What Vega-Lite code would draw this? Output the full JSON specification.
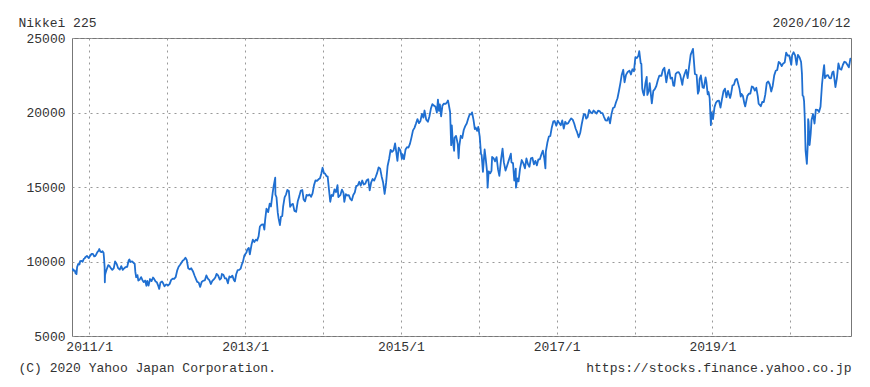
{
  "$schema": "https://vega.github.io/schema/vega-lite/v6.json",
  "width": 779,
  "height": 298,
  "autosize": {"type": "none"},
  "padding": {"left": 72, "top": 38, "right": 19, "bottom": 51},
  "background": "white",
  "config": {
    "view": {"stroke": "#777", "strokeWidth": 1},
    "font": "Liberation Mono"
  },
  "data": {"values": [
    {"d":"2010-10-12","v":9389},{"d":"2010-10-15","v":9500},{"d":"2010-10-20","v":9381},{"d":"2010-10-25","v":9401},{"d":"2010-10-29","v":9202},{"d":"2010-11-02","v":9154},{"d":"2010-11-05","v":9625},{"d":"2010-11-10","v":9830},{"d":"2010-11-16","v":9797},{"d":"2010-11-19","v":10022},{"d":"2010-11-26","v":10039},{"d":"2010-12-01","v":9988},{"d":"2010-12-06","v":10167},{"d":"2010-12-10","v":10211},{"d":"2010-12-15","v":10309},{"d":"2010-12-21","v":10370},{"d":"2010-12-27","v":10279},{"d":"2010-12-30","v":10229},
    {"d":"2011-01-05","v":10380},{"d":"2011-01-12","v":10512},{"d":"2011-01-18","v":10518},{"d":"2011-01-24","v":10345},{"d":"2011-01-28","v":10360},{"d":"2011-02-02","v":10457},{"d":"2011-02-08","v":10635},{"d":"2011-02-14","v":10725},{"d":"2011-02-17","v":10836},{"d":"2011-02-22","v":10665},{"d":"2011-02-28","v":10624},{"d":"2011-03-04","v":10694},{"d":"2011-03-09","v":10589},{"d":"2011-03-11","v":10254},{"d":"2011-03-14","v":9620},{"d":"2011-03-15","v":8605},{"d":"2011-03-16","v":9093},{"d":"2011-03-18","v":9206},{"d":"2011-03-23","v":9449},{"d":"2011-03-31","v":9755},{"d":"2011-04-05","v":9718},{"d":"2011-04-12","v":9555},{"d":"2011-04-19","v":9441},{"d":"2011-04-26","v":9558},{"d":"2011-05-02","v":10004},{"d":"2011-05-10","v":9818},{"d":"2011-05-16","v":9558},{"d":"2011-05-24","v":9460},{"d":"2011-05-31","v":9693},{"d":"2011-06-07","v":9442},{"d":"2011-06-14","v":9547},{"d":"2011-06-21","v":9629},{"d":"2011-06-28","v":9648},{"d":"2011-07-05","v":10082},{"d":"2011-07-08","v":10137},{"d":"2011-07-13","v":9964},{"d":"2011-07-21","v":10010},{"d":"2011-07-28","v":9902},{"d":"2011-08-02","v":9844},{"d":"2011-08-05","v":9300},{"d":"2011-08-09","v":8944},{"d":"2011-08-15","v":9086},{"d":"2011-08-19","v":8719},{"d":"2011-08-26","v":8797},{"d":"2011-09-01","v":8950},{"d":"2011-09-07","v":8763},{"d":"2011-09-13","v":8616},{"d":"2011-09-20","v":8721},{"d":"2011-09-26","v":8374},{"d":"2011-09-30","v":8700},{"d":"2011-10-06","v":8382},{"d":"2011-10-13","v":8823},{"d":"2011-10-20","v":8682},{"d":"2011-10-27","v":8926},{"d":"2011-11-01","v":8835},{"d":"2011-11-08","v":8655},{"d":"2011-11-14","v":8603},{"d":"2011-11-21","v":8348},{"d":"2011-11-25","v":8160},{"d":"2011-12-01","v":8597},{"d":"2011-12-08","v":8664},{"d":"2011-12-14","v":8519},{"d":"2011-12-20","v":8336},{"d":"2011-12-26","v":8440},{"d":"2011-12-30","v":8455},
    {"d":"2012-01-06","v":8390},{"d":"2012-01-13","v":8500},{"d":"2012-01-20","v":8766},{"d":"2012-01-27","v":8841},{"d":"2012-02-03","v":8831},{"d":"2012-02-10","v":8947},{"d":"2012-02-17","v":9384},{"d":"2012-02-24","v":9647},{"d":"2012-03-02","v":9777},{"d":"2012-03-09","v":9930},{"d":"2012-03-14","v":10050},{"d":"2012-03-21","v":10127},{"d":"2012-03-27","v":10255},{"d":"2012-04-02","v":10109},{"d":"2012-04-09","v":9546},{"d":"2012-04-16","v":9470},{"d":"2012-04-23","v":9542},{"d":"2012-05-01","v":9350},{"d":"2012-05-09","v":9045},{"d":"2012-05-16","v":8800},{"d":"2012-05-21","v":8633},{"d":"2012-05-28","v":8593},{"d":"2012-06-04","v":8296},{"d":"2012-06-11","v":8624},{"d":"2012-06-19","v":8720},{"d":"2012-06-26","v":8734},{"d":"2012-07-03","v":9066},{"d":"2012-07-10","v":8857},{"d":"2012-07-17","v":8755},{"d":"2012-07-24","v":8488},{"d":"2012-07-31","v":8695},{"d":"2012-08-07","v":8803},{"d":"2012-08-14","v":8929},{"d":"2012-08-20","v":9171},{"d":"2012-08-27","v":9070},{"d":"2012-09-04","v":8783},{"d":"2012-09-10","v":8869},{"d":"2012-09-14","v":9159},{"d":"2012-09-21","v":9110},{"d":"2012-09-28","v":8870},{"d":"2012-10-05","v":8863},{"d":"2012-10-12","v":8534},{"d":"2012-10-19","v":9002},{"d":"2012-10-26","v":8933},{"d":"2012-11-02","v":9051},{"d":"2012-11-09","v":8757},{"d":"2012-11-14","v":8665},{"d":"2012-11-20","v":9142},{"d":"2012-11-27","v":9423},{"d":"2012-12-04","v":9432},{"d":"2012-12-11","v":9525},{"d":"2012-12-17","v":9829},{"d":"2012-12-21","v":9940},{"d":"2012-12-28","v":10395},
    {"d":"2013-01-07","v":10599},{"d":"2013-01-11","v":10801},{"d":"2013-01-18","v":10913},{"d":"2013-01-23","v":10487},{"d":"2013-01-31","v":11138},{"d":"2013-02-06","v":11463},{"d":"2013-02-13","v":11307},{"d":"2013-02-20","v":11468},{"d":"2013-02-26","v":11399},{"d":"2013-03-05","v":11683},{"d":"2013-03-11","v":12349},{"d":"2013-03-19","v":12468},{"d":"2013-03-27","v":12493},{"d":"2013-04-01","v":12135},{"d":"2013-04-05","v":12833},{"d":"2013-04-11","v":13549},{"d":"2013-04-19","v":13317},{"d":"2013-04-26","v":13884},{"d":"2013-05-02","v":13694},{"d":"2013-05-10","v":14608},{"d":"2013-05-15","v":15096},{"d":"2013-05-22","v":15627},{"d":"2013-05-23","v":14483},{"d":"2013-05-28","v":14311},{"d":"2013-06-03","v":13261},{"d":"2013-06-07","v":12877},{"d":"2013-06-13","v":12445},{"d":"2013-06-18","v":13007},{"d":"2013-06-24","v":13062},{"d":"2013-06-28","v":13677},{"d":"2013-07-05","v":14309},{"d":"2013-07-12","v":14506},{"d":"2013-07-18","v":14808},{"d":"2013-07-25","v":14731},{"d":"2013-07-31","v":13668},{"d":"2013-08-07","v":13825},{"d":"2013-08-13","v":13868},{"d":"2013-08-20","v":13396},{"d":"2013-08-28","v":13338},{"d":"2013-09-05","v":14065},{"d":"2013-09-12","v":14388},{"d":"2013-09-19","v":14766},{"d":"2013-09-26","v":14799},{"d":"2013-10-02","v":14171},{"d":"2013-10-09","v":14037},{"d":"2013-10-16","v":14467},{"d":"2013-10-23","v":14426},{"d":"2013-10-30","v":14502},{"d":"2013-11-06","v":14337},{"d":"2013-11-13","v":14567},{"d":"2013-11-20","v":15126},{"d":"2013-11-27","v":15449},{"d":"2013-12-04","v":15407},{"d":"2013-12-11","v":15515},{"d":"2013-12-18","v":15587},{"d":"2013-12-24","v":15889},{"d":"2013-12-30","v":16291},
    {"d":"2014-01-06","v":15909},{"d":"2014-01-10","v":15912},{"d":"2014-01-17","v":15734},{"d":"2014-01-23","v":15695},{"d":"2014-01-28","v":14980},{"d":"2014-02-04","v":14008},{"d":"2014-02-10","v":14462},{"d":"2014-02-17","v":14393},{"d":"2014-02-24","v":14837},{"d":"2014-03-03","v":14652},{"d":"2014-03-10","v":15120},{"d":"2014-03-14","v":14327},{"d":"2014-03-24","v":14475},{"d":"2014-03-31","v":14828},{"d":"2014-04-07","v":14606},{"d":"2014-04-11","v":14000},{"d":"2014-04-18","v":14516},{"d":"2014-04-25","v":14429},{"d":"2014-05-02","v":14458},{"d":"2014-05-09","v":14199},{"d":"2014-05-16","v":14097},{"d":"2014-05-23","v":14462},{"d":"2014-05-30","v":14632},{"d":"2014-06-06","v":15077},{"d":"2014-06-13","v":15098},{"d":"2014-06-20","v":15349},{"d":"2014-06-27","v":15095},{"d":"2014-07-04","v":15437},{"d":"2014-07-11","v":15165},{"d":"2014-07-18","v":15215},{"d":"2014-07-25","v":15457},{"d":"2014-08-01","v":15523},{"d":"2014-08-08","v":14778},{"d":"2014-08-15","v":15318},{"d":"2014-08-22","v":15539},{"d":"2014-08-29","v":15425},{"d":"2014-09-05","v":15669},{"d":"2014-09-12","v":15948},{"d":"2014-09-19","v":16321},{"d":"2014-09-26","v":16229},{"d":"2014-10-03","v":15708},{"d":"2014-10-10","v":15300},{"d":"2014-10-17","v":14532},{"d":"2014-10-24","v":15291},{"d":"2014-10-31","v":16413},{"d":"2014-11-07","v":16880},{"d":"2014-11-14","v":17490},{"d":"2014-11-21","v":17357},{"d":"2014-11-28","v":17459},{"d":"2014-12-05","v":17920},{"d":"2014-12-10","v":17412},{"d":"2014-12-16","v":16755},{"d":"2014-12-22","v":17635},{"d":"2014-12-30","v":17451},
    {"d":"2015-01-06","v":16883},{"d":"2015-01-09","v":17197},{"d":"2015-01-16","v":16864},{"d":"2015-01-23","v":17511},{"d":"2015-01-30","v":17674},{"d":"2015-02-06","v":17648},{"d":"2015-02-13","v":17913},{"d":"2015-02-20","v":18332},{"d":"2015-02-27","v":18797},{"d":"2015-03-06","v":18971},{"d":"2015-03-13","v":19254},{"d":"2015-03-20","v":19560},{"d":"2015-03-27","v":19286},{"d":"2015-04-03","v":19435},{"d":"2015-04-10","v":19907},{"d":"2015-04-17","v":19653},{"d":"2015-04-22","v":20133},{"d":"2015-04-30","v":19520},{"d":"2015-05-08","v":19379},{"d":"2015-05-15","v":19733},{"d":"2015-05-22","v":20264},{"d":"2015-05-29","v":20563},{"d":"2015-06-05","v":20461},{"d":"2015-06-12","v":20407},{"d":"2015-06-19","v":19990},{"d":"2015-06-24","v":20868},{"d":"2015-06-29","v":20109},{"d":"2015-07-03","v":20539},{"d":"2015-07-09","v":19737},{"d":"2015-07-15","v":20463},{"d":"2015-07-22","v":20593},{"d":"2015-07-31","v":20585},{"d":"2015-08-07","v":20724},{"d":"2015-08-10","v":20808},{"d":"2015-08-14","v":20519},{"d":"2015-08-20","v":20033},{"d":"2015-08-25","v":17806},{"d":"2015-08-28","v":19136},{"d":"2015-09-01","v":18166},{"d":"2015-09-08","v":17428},{"d":"2015-09-10","v":18299},{"d":"2015-09-17","v":18432},{"d":"2015-09-25","v":17880},{"d":"2015-09-29","v":16930},{"d":"2015-10-02","v":17725},{"d":"2015-10-09","v":18438},{"d":"2015-10-16","v":18291},{"d":"2015-10-23","v":18825},{"d":"2015-10-30","v":19083},{"d":"2015-11-06","v":19265},{"d":"2015-11-13","v":19597},{"d":"2015-11-20","v":19879},{"d":"2015-11-27","v":19883},{"d":"2015-12-01","v":20012},{"d":"2015-12-08","v":19492},{"d":"2015-12-14","v":18883},{"d":"2015-12-18","v":18986},{"d":"2015-12-25","v":18769},{"d":"2015-12-30","v":19033},
    {"d":"2016-01-06","v":18374},{"d":"2016-01-12","v":17218},{"d":"2016-01-15","v":17147},{"d":"2016-01-21","v":16017},{"d":"2016-01-29","v":17518},{"d":"2016-02-03","v":16907},{"d":"2016-02-09","v":16085},{"d":"2016-02-12","v":14952},{"d":"2016-02-17","v":16054},{"d":"2016-02-24","v":15915},{"d":"2016-03-01","v":16085},{"d":"2016-03-04","v":17014},{"d":"2016-03-11","v":16938},{"d":"2016-03-18","v":16724},{"d":"2016-03-25","v":17002},{"d":"2016-04-01","v":16164},{"d":"2016-04-07","v":15750},{"d":"2016-04-15","v":16848},{"d":"2016-04-22","v":17572},{"d":"2016-04-28","v":16666},{"d":"2016-05-06","v":16106},{"d":"2016-05-13","v":16412},{"d":"2016-05-20","v":16736},{"d":"2016-05-31","v":17234},{"d":"2016-06-03","v":16642},{"d":"2016-06-10","v":16601},{"d":"2016-06-16","v":15434},{"d":"2016-06-23","v":16238},{"d":"2016-06-24","v":14952},{"d":"2016-06-30","v":15575},{"d":"2016-07-06","v":15378},{"d":"2016-07-13","v":16231},{"d":"2016-07-21","v":16810},{"d":"2016-07-29","v":16569},{"d":"2016-08-05","v":16254},{"d":"2016-08-12","v":16919},{"d":"2016-08-19","v":16545},{"d":"2016-08-26","v":16360},{"d":"2016-09-02","v":16925},{"d":"2016-09-09","v":16965},{"d":"2016-09-16","v":16519},{"d":"2016-09-23","v":16754},{"d":"2016-09-30","v":16449},{"d":"2016-10-07","v":16860},{"d":"2016-10-14","v":16856},{"d":"2016-10-21","v":17184},{"d":"2016-10-28","v":17446},{"d":"2016-11-04","v":16905},{"d":"2016-11-09","v":16251},{"d":"2016-11-11","v":17374},{"d":"2016-11-18","v":17967},{"d":"2016-11-25","v":18381},{"d":"2016-12-02","v":18426},{"d":"2016-12-09","v":18996},{"d":"2016-12-16","v":19401},{"d":"2016-12-22","v":19427},{"d":"2016-12-30","v":19114},
    {"d":"2017-01-06","v":19454},{"d":"2017-01-13","v":19287},{"d":"2017-01-20","v":19137},{"d":"2017-01-27","v":19467},{"d":"2017-02-03","v":18918},{"d":"2017-02-10","v":19378},{"d":"2017-02-17","v":19234},{"d":"2017-02-24","v":19283},{"d":"2017-03-03","v":19469},{"d":"2017-03-10","v":19604},{"d":"2017-03-17","v":19521},{"d":"2017-03-24","v":19262},{"d":"2017-03-31","v":18909},{"d":"2017-04-07","v":18664},{"d":"2017-04-14","v":18335},{"d":"2017-04-21","v":18620},{"d":"2017-04-28","v":19196},{"d":"2017-05-08","v":19895},{"d":"2017-05-15","v":19869},{"d":"2017-05-19","v":19590},{"d":"2017-05-26","v":19686},{"d":"2017-06-02","v":20177},{"d":"2017-06-09","v":20013},{"d":"2017-06-16","v":19943},{"d":"2017-06-23","v":20132},{"d":"2017-06-30","v":20033},{"d":"2017-07-07","v":19929},{"d":"2017-07-14","v":20118},{"d":"2017-07-21","v":20099},{"d":"2017-07-28","v":19959},{"d":"2017-08-04","v":19952},{"d":"2017-08-10","v":19729},{"d":"2017-08-18","v":19470},{"d":"2017-08-25","v":19452},{"d":"2017-09-01","v":19691},{"d":"2017-09-08","v":19274},{"d":"2017-09-15","v":19909},{"d":"2017-09-22","v":20296},{"d":"2017-09-29","v":20356},{"d":"2017-10-06","v":20690},{"d":"2017-10-13","v":20954},{"d":"2017-10-20","v":21457},{"d":"2017-10-27","v":22008},{"d":"2017-11-02","v":22539},{"d":"2017-11-09","v":22868},{"d":"2017-11-15","v":22028},{"d":"2017-11-22","v":22523},{"d":"2017-11-30","v":22724},{"d":"2017-12-08","v":22811},{"d":"2017-12-15","v":22553},{"d":"2017-12-22","v":22902},{"d":"2017-12-29","v":22765},
    {"d":"2018-01-05","v":23714},{"d":"2018-01-12","v":23653},{"d":"2018-01-19","v":23808},{"d":"2018-01-23","v":24124},{"d":"2018-01-30","v":23291},{"d":"2018-02-02","v":23274},{"d":"2018-02-06","v":21610},{"d":"2018-02-09","v":21382},{"d":"2018-02-14","v":21154},{"d":"2018-02-21","v":21970},{"d":"2018-02-27","v":22389},{"d":"2018-03-02","v":21182},{"d":"2018-03-09","v":21469},{"d":"2018-03-13","v":21968},{"d":"2018-03-23","v":20617},{"d":"2018-03-30","v":21454},{"d":"2018-04-06","v":21567},{"d":"2018-04-13","v":21778},{"d":"2018-04-20","v":22162},{"d":"2018-04-27","v":22467},{"d":"2018-05-07","v":22467},{"d":"2018-05-14","v":22865},{"d":"2018-05-21","v":23002},{"d":"2018-05-30","v":22018},{"d":"2018-06-06","v":22625},{"d":"2018-06-12","v":22878},{"d":"2018-06-19","v":22278},{"d":"2018-06-26","v":22342},{"d":"2018-07-02","v":21811},{"d":"2018-07-06","v":21788},{"d":"2018-07-13","v":22597},{"d":"2018-07-20","v":22697},{"d":"2018-07-27","v":22712},{"d":"2018-08-03","v":22525},{"d":"2018-08-13","v":21857},{"d":"2018-08-17","v":22270},{"d":"2018-08-24","v":22601},{"d":"2018-08-31","v":22865},{"d":"2018-09-07","v":22307},{"d":"2018-09-14","v":23094},{"d":"2018-09-21","v":23869},{"d":"2018-09-28","v":24120},{"d":"2018-10-02","v":24270},{"d":"2018-10-11","v":22590},{"d":"2018-10-16","v":22549},{"d":"2018-10-19","v":22532},{"d":"2018-10-25","v":21268},{"d":"2018-10-30","v":21457},{"d":"2018-11-02","v":22243},{"d":"2018-11-08","v":22486},{"d":"2018-11-16","v":21680},{"d":"2018-11-22","v":21646},{"d":"2018-11-30","v":22351},{"d":"2018-12-04","v":22036},{"d":"2018-12-10","v":21220},{"d":"2018-12-14","v":21374},{"d":"2018-12-19","v":20987},{"d":"2018-12-25","v":19155},{"d":"2018-12-28","v":20015},
    {"d":"2019-01-04","v":19561},{"d":"2019-01-11","v":20360},{"d":"2019-01-18","v":20666},{"d":"2019-01-25","v":20774},{"d":"2019-02-01","v":20788},{"d":"2019-02-08","v":20333},{"d":"2019-02-15","v":20900},{"d":"2019-02-22","v":21426},{"d":"2019-03-01","v":21602},{"d":"2019-03-08","v":21025},{"d":"2019-03-15","v":21451},{"d":"2019-03-25","v":20977},{"d":"2019-03-29","v":21206},{"d":"2019-04-05","v":21807},{"d":"2019-04-12","v":21870},{"d":"2019-04-19","v":22200},{"d":"2019-04-26","v":22259},{"d":"2019-05-08","v":21602},{"d":"2019-05-14","v":21067},{"d":"2019-05-17","v":21250},{"d":"2019-05-24","v":21117},{"d":"2019-05-31","v":20601},{"d":"2019-06-04","v":20408},{"d":"2019-06-14","v":21116},{"d":"2019-06-21","v":21259},{"d":"2019-06-28","v":21276},{"d":"2019-07-05","v":21746},{"d":"2019-07-12","v":21685},{"d":"2019-07-19","v":21466},{"d":"2019-07-26","v":21658},{"d":"2019-08-02","v":21087},{"d":"2019-08-06","v":20585},{"d":"2019-08-16","v":20418},{"d":"2019-08-23","v":20711},{"d":"2019-08-30","v":20704},{"d":"2019-09-06","v":21199},{"d":"2019-09-13","v":21988},{"d":"2019-09-20","v":22079},{"d":"2019-09-27","v":21878},{"d":"2019-10-04","v":21410},{"d":"2019-10-11","v":21798},{"d":"2019-10-18","v":22492},{"d":"2019-10-25","v":22799},{"d":"2019-11-01","v":22850},{"d":"2019-11-08","v":23391},{"d":"2019-11-15","v":23303},{"d":"2019-11-22","v":23112},{"d":"2019-11-29","v":23293},{"d":"2019-12-06","v":23354},{"d":"2019-12-13","v":24023},{"d":"2019-12-20","v":23816},{"d":"2019-12-27","v":23837},{"d":"2019-12-30","v":23656},
    {"d":"2020-01-06","v":23204},{"d":"2020-01-10","v":23850},{"d":"2020-01-17","v":24041},{"d":"2020-01-24","v":23827},{"d":"2020-01-31","v":23205},{"d":"2020-02-06","v":23873},{"d":"2020-02-14","v":23687},{"d":"2020-02-21","v":23386},{"d":"2020-02-25","v":22605},{"d":"2020-02-28","v":21142},{"d":"2020-03-03","v":21082},{"d":"2020-03-06","v":20749},{"d":"2020-03-09","v":19698},{"d":"2020-03-13","v":17431},{"d":"2020-03-16","v":17002},{"d":"2020-03-19","v":16552},{"d":"2020-03-24","v":18092},{"d":"2020-03-25","v":19546},{"d":"2020-03-27","v":19389},{"d":"2020-04-01","v":17818},{"d":"2020-04-06","v":18576},{"d":"2020-04-10","v":19498},{"d":"2020-04-17","v":19897},{"d":"2020-04-24","v":19262},{"d":"2020-04-30","v":20193},{"d":"2020-05-08","v":20179},{"d":"2020-05-15","v":20037},{"d":"2020-05-22","v":20388},{"d":"2020-05-29","v":21877},{"d":"2020-06-05","v":22863},{"d":"2020-06-08","v":23178},{"d":"2020-06-12","v":22305},{"d":"2020-06-19","v":22478},{"d":"2020-06-26","v":22512},{"d":"2020-07-03","v":22306},{"d":"2020-07-10","v":22290},{"d":"2020-07-17","v":22696},{"d":"2020-07-22","v":22751},{"d":"2020-07-31","v":21710},{"d":"2020-08-07","v":22329},{"d":"2020-08-14","v":23289},{"d":"2020-08-21","v":22920},{"d":"2020-08-28","v":22882},{"d":"2020-09-04","v":23205},{"d":"2020-09-11","v":23406},{"d":"2020-09-18","v":23360},{"d":"2020-09-25","v":23205},{"d":"2020-10-02","v":23030},{"d":"2020-10-09","v":23619},{"d":"2020-10-12","v":23558}
  ]},
  "layer": [
    {
      "mark": {"type": "line", "color": "#1f6fd1", "strokeWidth": 1.8, "strokeJoin": "round", "clip": true},
      "encoding": {
        "x": {
          "field": "d", "type": "temporal",
          "scale": {"type": "utc", "domain": [{"year": 2010, "month": 10, "date": 12, "utc": true}, {"year": 2020, "month": 10, "date": 12, "utc": true}]},
          "axis": {
            "orient": "bottom",
            "values": [
              {"year": 2011, "month": 1, "date": 1, "utc": true},{"year": 2012, "month": 1, "date": 1, "utc": true},{"year": 2013, "month": 1, "date": 1, "utc": true},{"year": 2014, "month": 1, "date": 1, "utc": true},{"year": 2015, "month": 1, "date": 1, "utc": true},{"year": 2016, "month": 1, "date": 1, "utc": true},{"year": 2017, "month": 1, "date": 1, "utc": true},{"year": 2018, "month": 1, "date": 1, "utc": true},{"year": 2019, "month": 1, "date": 1, "utc": true},{"year": 2020, "month": 1, "date": 1, "utc": true}
            ],
            "labelExpr": "utcyear(datum.value) % 2 == 1 ? utcFormat(datum.value, '%Y/%-m') : ''",
            "grid": true, "gridColor": "#999", "gridDash": [2, 4], "gridWidth": 1,
            "domain": false, "ticks": false,
            "labelFont": "Liberation Mono", "labelFontSize": 13, "labelColor": "#333",
            "labelPadding": 4, "labelDx": -7, "labelFlush": false, "labelOverlap": false, "labelBound": false,
            "title": "https://stocks.finance.yahoo.co.jp",
            "titleFont": "Liberation Mono", "titleFontSize": 13, "titleFontWeight": "normal", "titleColor": "#333",
            "titleX": 779, "titleY": 31, "titleAlign": "right", "titleBaseline": "middle"
          }
        },
        "y": {
          "field": "v", "type": "quantitative",
          "scale": {"domain": [5000, 25000], "nice": false, "zero": false},
          "axis": {
            "orient": "left",
            "values": [5000, 10000, 15000, 20000, 25000],
            "format": "d",
            "grid": true, "gridColor": "#999", "gridDash": [2, 4], "gridWidth": 1,
            "domain": false, "ticks": false,
            "labelFont": "Liberation Mono", "labelFontSize": 13, "labelColor": "#333",
            "labelPadding": 7, "labelFlush": false, "labelOverlap": false,
            "title": "Nikkei 225",
            "titleFont": "Liberation Mono", "titleFontSize": 13, "titleFontWeight": "normal", "titleColor": "#333",
            "titleAngle": 0, "titleX": -54, "titleY": -16, "titleAlign": "left", "titleBaseline": "middle"
          }
        }
      }
    },
    {
      "mark": {"type": "line", "strokeOpacity": 0},
      "encoding": {
        "x": {
          "field": "d", "type": "temporal",
          "axis": {
            "orient": "top", "labels": false, "ticks": false, "domain": false, "grid": false,
            "title": "2020/10/12",
            "titleFont": "Liberation Mono", "titleFontSize": 13, "titleFontWeight": "normal", "titleColor": "#333",
            "titleX": 778, "titleY": -16, "titleAlign": "right", "titleBaseline": "middle"
          }
        },
        "y": {
          "field": "v", "type": "quantitative",
          "axis": {
            "orient": "right", "labels": false, "ticks": false, "domain": false, "grid": false,
            "title": "(C) 2020 Yahoo Japan Corporation.",
            "titleFont": "Liberation Mono", "titleFontSize": 13, "titleFontWeight": "normal", "titleColor": "#333",
            "titleAngle": 0, "titleX": -833, "titleY": 329, "titleAlign": "left", "titleBaseline": "middle"
          }
        }
      }
    }
  ],
  "resolve": {"axis": {"x": "independent", "y": "independent"}}
}
